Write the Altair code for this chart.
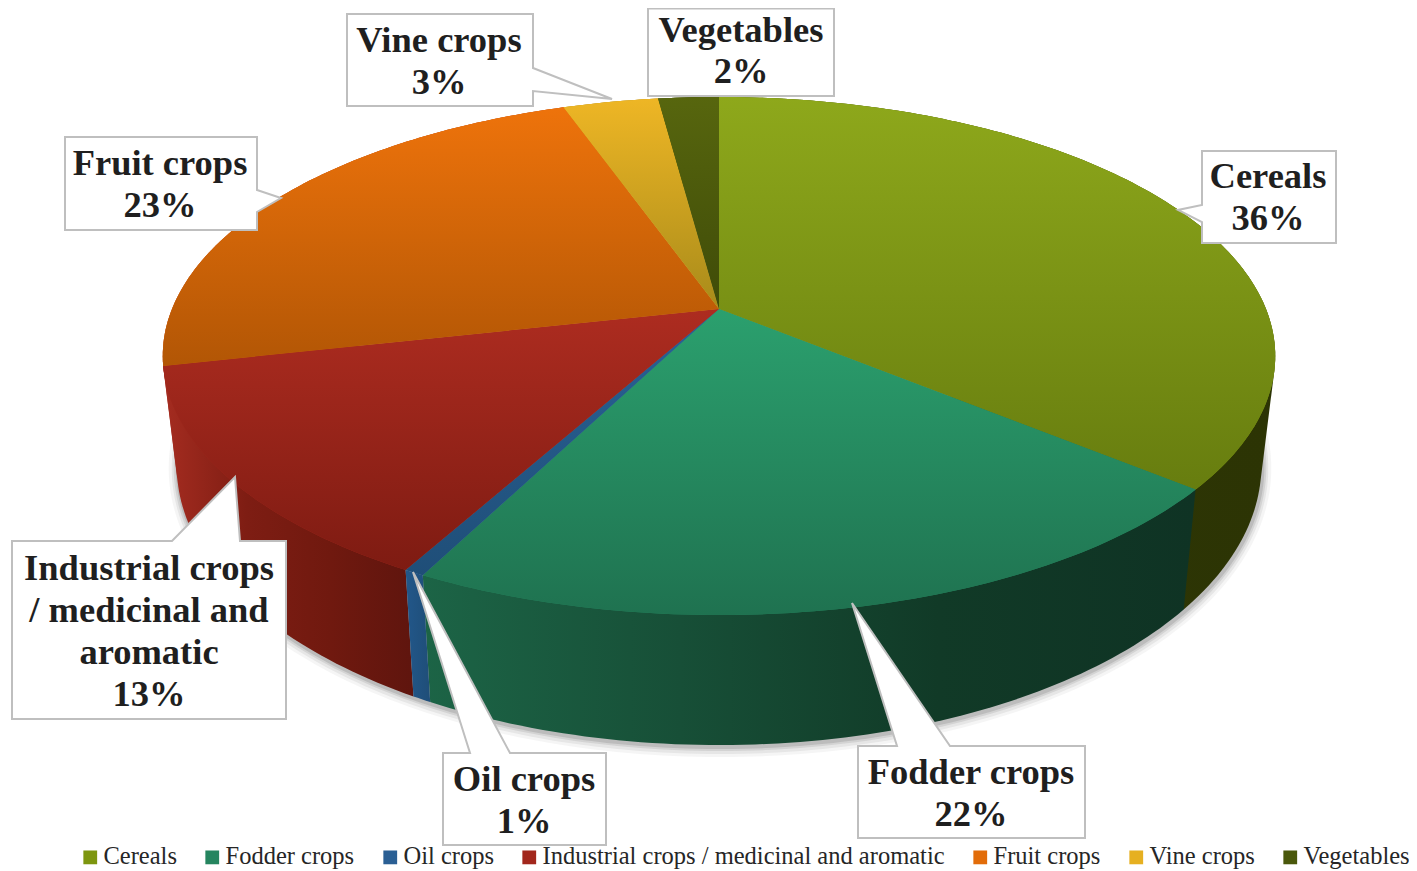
import math
import altair as alt

# ---- data (shares of the pie, percent) ----
categories = ["Cereals", "Fodder crops", "Oil crops",
              "Industrial crops / medicinal and aromatic",
              "Fruit crops", "Vine crops", "Vegetables"]
shares = [36.0, 21.5, 0.5, 13.5, 23.1, 3.3, 2.1]
labels = ["36%", "22%", "1%", "13%", "23%", "3%", "2%"]
legend_colors = ["#7d960f", "#25855f", "#2a5f94", "#a2271c", "#e26c09", "#e6b021", "#4a580b"]
top_from = ["#8ea81b", "#2ba06e", "#2a6296", "#ad2c20", "#ee730b", "#eeb625", "#57660e"]
top_to = ["#677d0f", "#1f7250", "#1f4e78", "#7e1b12", "#b25605", "#a88b1a", "#3f4b08"]
wall_stops = [["#2f3806", "#2c3404"],
              ["#1c6446", "#174f37", "#113a27", "#0f3324"],
              ["#22578a", "#1f4e78"],
              ["#a52c20", "#7e1d13", "#70190f", "#5f150e"],
              ["#a52c20", "#a52c20"], ["#8a6d10", "#8a6d10"], ["#333c06", "#333c06"]]
wall_order = [6, 5, 4, 0, 3, 1, 2]  # back of the pie first

# ---- perspective of the pie (layout constants) ----
APEX_X, APEX_Y, A, B, K = 719.0, 309.0, 547.0, 250.5, 0.1815
DEPTH_SX, DEPTH_SY, FRONT_TOP, FRONT_BOTTOM = 0.975, 1.08, 615.0, 745.0


def rim(turn):
    t = 2 * math.pi * turn
    u, v = math.sin(t), -math.cos(t)
    w = 1 - K * v
    return [APEX_X + A * u / w, APEX_Y + B * v / w]


def low(p):
    return [APEX_X + DEPTH_SX * (p[0] - APEX_X), FRONT_BOTTOM + DEPTH_SY * (p[1] - FRONT_TOP)]


def arc(t0, t1):
    n = max(4, int((t1 - t0) * 360))
    return [rim(t0 + (t1 - t0) * i / n) for i in range(n + 1)]


def hull(points):
    pts = sorted(map(tuple, points))

    def half(seq):
        out = []
        for p in seq:
            while len(out) > 1 and ((out[-1][0] - out[-2][0]) * (p[1] - out[-2][1])
                                    - (out[-1][1] - out[-2][1]) * (p[0] - out[-2][0])) <= 0:
                out.pop()
            out.append(p)
        return out[:-1]

    return half(pts) + half(pts[::-1])


def poly(points, name=""):
    pts = [list(p) for p in points]
    pts.append(pts[0])
    return {"type": "Feature", "properties": {"name": name},
            "geometry": {"type": "Polygon", "coordinates": [pts]}}


def data_of(features):
    return alt.InlineData(values={"type": "FeatureCollection", "features": features},
                          format=alt.DataFormat(property="features", type="json"))


total = sum(shares)
edges = [0.0]
for s in shares:
    edges.append(edges[-1] + s / total)
tops, walls = [], []
for i, name in enumerate(categories):
    a = arc(edges[i], edges[i + 1])
    tops.append(poly([[APEX_X, APEX_Y]] + a, name))
    walls.append(poly(hull(a + [low(p) for p in a]), name))

layers = []

# soft shadow under the pie
whole = arc(0, 1)
for grow, dx, dy, op in [(9, 1, 3, 0.06), (6, 1, 3, 0.09), (4, 1, 2, 0.13), (2, 1, 2, 0.18)]:
    ring = []
    for p in whole:
        q = low(p)
        ring.append([q[0] + dx + grow * (q[0] - APEX_X) / 545, q[1] + dy + grow * (q[1] - 464) / 280])
    layers.append(alt.Chart(data_of([poly(ring)])).mark_geoshape(fill="#555555", opacity=op, strokeWidth=0))

# side walls
for i in wall_order:
    st = wall_stops[i]
    grad = alt.Gradient(gradient="linear", x1=0, x2=1, y1=0, y2=0,
                        stops=[alt.GradientStop(color=c, offset=j / (len(st) - 1)) for j, c in enumerate(st)])
    layers.append(alt.Chart(data_of([walls[i]])).mark_geoshape(fill=grad, strokeWidth=0))

# flat slices carrying the legend, shaded by the gradient layers above
layers.append(
    alt.Chart(data_of(tops)).mark_geoshape(strokeWidth=0).encode(
        color=alt.Color("properties.name:N",
                        scale=alt.Scale(domain=categories, range=legend_colors),
                        legend=alt.Legend(title=None, orient="none", legendX=70, legendY=837,
                                          direction="horizontal", columns=7, symbolType="square",
                                          symbolSize=190, symbolStrokeWidth=0, labelFont="Liberation Serif",
                                          labelFontSize=24.5, labelColor="#262626", labelOffset=1,
                                          columnPadding=23, labelLimit=600, padding=0))
    )
)
for i, f in enumerate(tops):
    grad = alt.Gradient(gradient="linear", x1=0, x2=0, y1=0, y2=1,
                        stops=[alt.GradientStop(color=top_from[i], offset=0),
                               alt.GradientStop(color=top_to[i], offset=1)])
    layers.append(alt.Chart(data_of([f])).mark_geoshape(fill=grad, strokeWidth=0))

# ---- callouts: outline of each box with its pointer, image pixel positions ----
callouts = [
    [[1202, 151], [1336, 151], [1336, 243], [1202, 243], [1202, 222], [1178, 210], [1202, 205]],
    [[858, 746], [897, 746], [852, 603], [950, 746], [1085, 746], [1085, 838], [858, 838]],
    [[443, 753], [470, 753], [413, 572], [510, 753], [606, 753], [606, 845], [443, 845]],
    [[12, 541], [172, 541], [235, 477], [240, 541], [286, 541], [286, 719], [12, 719]],
    [[65, 137], [257, 137], [257, 190], [281, 198], [257, 212], [257, 230], [65, 230]],
    [[347, 14], [533, 14], [533, 68], [612, 99], [533, 91], [533, 106], [347, 106]],
    [[648, 8.5], [834, 8.5], [834, 96], [648, 96]],
]
layers.append(alt.Chart(data_of([poly(c) for c in callouts])).mark_geoshape(
    fill="#ffffff", stroke="#bfbfbf", strokeWidth=2))

label_rows = [
    ("Cereals", 1268, 188), ("36%", 1268, 230),
    ("Fodder crops", 971, 784), ("22%", 971, 826),
    ("Oil crops", 524, 791), ("1%", 524, 833),
    ("Industrial crops", 149, 580), ("/ medicinal and", 149, 622),
    ("aromatic", 149, 664), ("13%", 149, 706),
    ("Fruit crops", 160, 175), ("23%", 160, 217),
    ("Vine crops", 439, 52), ("3%", 439, 94),
    ("Vegetables", 741, 42), ("2%", 741, 83),
]
layers.append(
    alt.Chart(alt.InlineData(values=[{"t": t, "x": x, "y": y} for t, x, y in label_rows])).mark_text(
        font="Liberation Serif", fontSize=36.5, fontWeight="bold", color="#1f1f1f",
        align="center", baseline="alphabetic").encode(
        longitude="x:Q", latitude="y:Q", text="t:N")
)

chart = alt.layer(*layers).project(type="identity", scale=1, translate=[-8, -8]).properties(
    width=1401, height=863, padding=0, autosize=alt.AutoSizeParams(type="none")
).configure_view(stroke=None)

chart.save("out.html", embed_options={"renderer": "svg", "actions": False})
